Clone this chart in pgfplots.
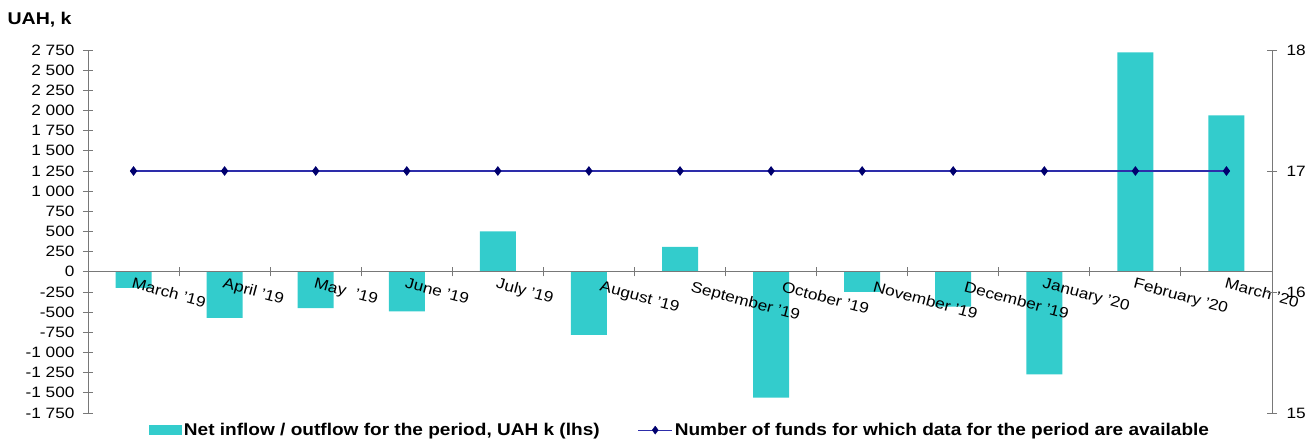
\documentclass[border=0pt]{standalone}
\usepackage{pgfplots}
\pgfplotsset{compat=1.18}
\usepackage{fontspec}
\setmainfont[FakeStretch=1.15]{Liberation Sans}
\newfontfamily\legfont[FakeStretch=1.12]{Liberation Sans}
\definecolor{barcol}{RGB}{51,204,204}
\definecolor{linecol}{RGB}{45,45,170}
\definecolor{markcol}{RGB}{0,0,110}
\definecolor{axcol}{RGB}{120,120,120}

\pgfplotstableread{
x val
0 -200
1 -570
2 -450
3 -490
4 500
5 -780
6 310
7 -1560
8 -250
9 -430
10 -1270
11 2720
12 1940
}\flows

\pgfplotstableread{
x n
0 17
1 17
2 17
3 17
4 17
5 17
6 17
7 17
8 17
9 17
10 17
11 17
12 17
}\funds

\pgfplotsset{
  linelegend/.style={legend image code/.code={
    \draw[linecol, line width=1.1pt] (0pt,0pt) -- (34pt,0pt);
    \draw[markcol, fill=markcol, mark=diamond*, mark size=4pt] plot coordinates {(17pt,0pt)};}},
  barlegend/.style={legend image code/.code={
    \fill[barcol] (0pt,-5pt) rectangle (33pt,5pt);}},
}
\newcommand{\sh}{\hspace{13pt}}

\begin{document}
\begin{tikzpicture}
\pgfplotsset{
  every axis/.append style={
    scale only axis, width=1184pt, height=363pt,
    xmin=-0.5, xmax=12.5,
    tick align=center, major tick length=10pt,
    axis line style={axcol, line width=0.9pt},
    every tick/.style={axcol, line width=0.9pt},
    tick label style={font=\fontsize{15}{17}\selectfont},
    /pgf/number format/assume math mode=true,
  },
}
\begin{axis}[
  axis x line=middle, axis y line=left,
  axis on top,
  ymin=-1750, ymax=2750,
  ytick={-1750,-1500,...,2750},
  y axis line style={-},
  x axis line style={-},
  yticklabel style={xshift=-5pt, /pgf/number format/.cd, fixed, 1000 sep={\ }},
  xtick={0,...,12},
  major x tick style={draw=none},
  minor xtick={0.5,1.5,...,11.5},
  minor tick length=9pt,
  minor x tick style={axcol, line width=0.9pt},
  xticklabels={March '19, April '19, May \ '19, June '19, July '19, \sh August '19, \sh September '19, \sh October '19, \sh November '19, \sh December '19, January '20, February '20, March '20},
  xticklabel style={rotate=-15, anchor=north west, xshift=-3pt, yshift=3pt},
  title={UAH, k},
  title style={at={(rel axis cs:0,1)}, anchor=base west, xshift=-84pt, yshift=19pt, font=\fontsize{17}{19}\selectfont\bfseries},
  legend style={draw=none, at={(0.5,0)}, anchor=north, yshift=-6pt,
    font=\fontsize{17}{19}\selectfont\legfont\bfseries, legend columns=2,
    /tikz/every even column/.append style={column sep=36pt}},
  legend cell align=left,
]
\coordinate (O) at (rel axis cs:0,0);
\addplot[ybar, bar width=36pt, fill=barcol, draw=none, barlegend]
  table[x=x, y=val] {\flows};
\addlegendentry{Net inflow / outflow for the period, UAH k (lhs)}
\addlegendimage{linelegend}
\addlegendentry{Number of funds for which data for the period are available}
\end{axis}
\begin{axis}[
  axis x line=none, axis y line=right,
  y axis line style={-},
  ymin=15, ymax=18, ytick={15,16,17,18},
  yticklabel style={xshift=6pt},
]
\addplot[linecol, line width=1.1pt, mark=diamond*, mark size=4pt,
  mark options={fill=markcol, draw=markcol}]
  table[x=x, y=n] {\funds};
\end{axis}
\draw[gray!45, line width=1.5pt] (O) ++(-88pt,438pt) -- ++(1309pt,0pt);
\pgfresetboundingbox
\path (O) ++(-88pt,-28pt) rectangle ++(1309pt,441pt);
\end{tikzpicture}
\end{document}
